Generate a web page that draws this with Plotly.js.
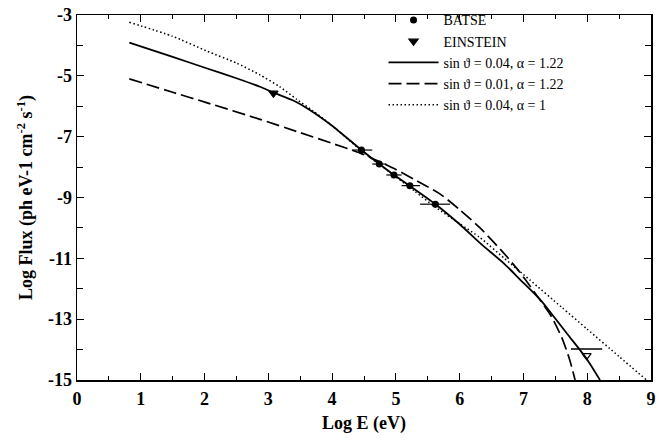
<!DOCTYPE html>
<html>
<head>
<meta charset="utf-8">
<script src="https://cdn.plot.ly/plotly-3.0.1.min.js"></script>
<style>html,body{margin:0;padding:0;background:#fff;}#chart{width:665px;height:440px;}</style>
</head>
<body>
<div id="chart"></div>
<script>
// BATSE data points (log E, log flux) with horizontal bin half-widths
const batseX = [4.46, 4.74, 4.97, 5.22, 5.62];
const batseY = [-7.44, -7.90, -8.26, -8.61, -9.22];
const batseXerrMinus = [0.15, 0.11, 0.12, 0.13, 0.24];
const batseXerrPlus = [0.17, 0.11, 0.12, 0.16, 0.23];

// EINSTEIN points (second is an upper limit)
const einX = [3.08, 7.99];
const einY = [-5.57, -14.2];
const einLimitX = [7.99];
const einLimitY = [-13.98];
const einLimitHalfWidth = [0.245];

// Model: sin theta = 0.04, alpha = 1.22 (solid)
const solidX = [0.82, 1.5, 2.03, 2.5, 2.87, 3.08, 3.4, 3.65, 4.0, 4.46, 4.74, 4.97, 5.22, 5.62, 6.0, 6.32, 6.7, 6.94, 7.26, 7.44, 7.7, 7.99, 8.2];
const solidY = [-3.91, -4.38, -4.75, -5.08, -5.36, -5.55, -5.82, -6.12, -6.64, -7.44, -7.90, -8.26, -8.62, -9.22, -9.88, -10.5, -11.18, -11.68, -12.35, -12.82, -13.52, -14.3, -15.0];

// Model: sin theta = 0.01, alpha = 1.22 (dashed)
const dashX = [0.82, 1.5, 2.03, 2.87, 3.5, 4.0, 4.44, 4.74, 5.0, 5.3, 5.69, 6.0, 6.32, 6.7, 6.94, 7.1, 7.26, 7.44, 7.6, 7.72, 7.81];
const dashY = [-5.10, -5.54, -5.88, -6.43, -6.87, -7.22, -7.54, -7.82, -8.08, -8.42, -8.88, -9.4, -10.0, -10.85, -11.45, -11.9, -12.37, -12.92, -13.6, -14.3, -15.0];

// Model: sin theta = 0.04, alpha = 1 (dotted)
const dotX = [0.82, 1.5, 2.03, 2.5, 2.87, 3.18, 3.45, 3.7, 4.0, 4.46, 5.0, 5.3, 5.62, 6.0, 6.32, 6.7, 7.1, 7.6, 8.0, 8.5, 8.93];
const dotY = [-3.24, -3.70, -4.18, -4.58, -4.97, -5.36, -5.78, -6.15, -6.64, -7.46, -8.32, -8.80, -9.32, -9.86, -10.32, -11.0, -11.71, -12.61, -13.33, -14.23, -15.0];

// Axis tick labels
const yTickVals = [-15, -13, -11, -9, -7, -5, -3];
const yTickText = ['-15', '-13', '-11', '-9', '-7', '-5', '-3'];

const legendLabels = ['BATSE', 'EINSTEIN', 'sin \u03D1 = 0.04, \u03B1 = 1.22', 'sin \u03D1 = 0.01, \u03B1 = 1.22', 'sin \u03D1 = 0.04, \u03B1 = 1'];

const serif = 'Liberation Serif, Times New Roman, serif';

const traces = [
  {
    x: batseX, y: batseY, mode: 'markers', name: legendLabels[0],
    marker: {symbol: 'circle', size: 7, color: '#000', opacity: 1},
    error_x: {type: 'data', symmetric: false, array: batseXerrPlus, arrayminus: batseXerrMinus, color: '#000', thickness: 1.2, width: 0}
  },
  {
    x: einX, y: einY, mode: 'markers', name: legendLabels[1],
    marker: {symbol: ['triangle-down', 'triangle-down-open'], size: 8, opacity: 1, color: '#000', line: {color: '#000', width: 1.2}}
  },
  {
    x: solidX, y: solidY, mode: 'lines', name: legendLabels[2],
    line: {color: '#000', width: 1.8, shape: 'spline', smoothing: 0.6}
  },
  {
    x: dashX, y: dashY, mode: 'lines', name: legendLabels[3],
    line: {color: '#000', width: 1.7, dash: '13px,5px', shape: 'spline', smoothing: 0.6}
  },
  {
    x: dotX, y: dotY, mode: 'lines', name: legendLabels[4],
    line: {color: '#000', width: 1.5, dash: '1.5px,2.5px', shape: 'spline', smoothing: 0.6}
  },
  {
    x: einLimitX, y: einLimitY, mode: 'markers', showlegend: false, hoverinfo: 'skip',
    marker: {size: 1, color: 'rgba(0,0,0,0)'},
    error_x: {type: 'data', array: einLimitHalfWidth, color: '#000', thickness: 1.3, width: 0}
  }
];

const layout = {
  width: 665, height: 440,
  margin: {l: 77, r: 14, t: 15, b: 60, autoexpand: false},
  paper_bgcolor: '#fff', plot_bgcolor: '#fff',
  font: {family: serif, color: '#000'},
  showlegend: true,
  legend: {
    x: 0.534, xanchor: 'left', y: 1.029, yanchor: 'top',
    bgcolor: 'rgba(0,0,0,0)', borderwidth: 0,
    font: {family: serif, size: 14, color: '#000'},
    itemwidth: 50, tracegroupgap: 0
  },
  xaxis: {
    range: [0, 9], tick0: 0, dtick: 1,
    ticks: 'inside', ticklen: 7, tickwidth: 1.2, tickcolor: '#000',
    minor: {dtick: 0.5, ticks: 'inside', ticklen: 4, tickwidth: 1, tickcolor: '#000'},
    showline: true, linecolor: '#000', linewidth: 1.5, mirror: 'ticks',
    showgrid: false, zeroline: false,
    tickfont: {family: serif, size: 18, weight: 'bold', color: '#000'},
    ticklabelstandoff: 2,
    title: {text: 'Log E (eV)', font: {family: serif, size: 18, weight: 'bold', color: '#000'}, standoff: 8}
  },
  yaxis: {
    range: [-15, -3], tickmode: 'array', tickvals: yTickVals, ticktext: yTickText,
    ticks: 'inside', ticklen: 7, tickwidth: 1.2, tickcolor: '#000',
    minor: {dtick: 1, tick0: -3, ticks: 'inside', ticklen: 6, tickwidth: 1, tickcolor: '#000'},
    showline: true, linecolor: '#000', linewidth: 1.5, mirror: 'ticks',
    showgrid: false, zeroline: false,
    tickfont: {family: serif, size: 18, weight: 'bold', color: '#000'},
    ticklabelstandoff: 0,
    title: {text: 'Log Flux (ph eV-1 cm<sup>-2</sup> s<sup>-1</sup>)', font: {family: serif, size: 18, weight: 'bold', color: '#000'}, standoff: 10}
  }
};

Plotly.newPlot('chart', traces, layout, {displayModeBar: false, staticPlot: true});
</script>
</body>
</html>
